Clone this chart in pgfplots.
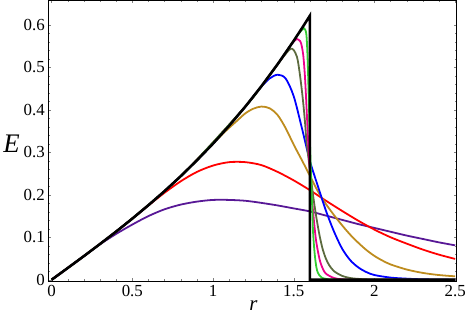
\documentclass[border=0pt]{standalone}
\usepackage{fontspec}
\setmainfont{Liberation Serif}
\usepackage{pgfplots}
\pgfplotsset{compat=1.18}

\definecolor{cpurple}{RGB}{88,24,150}
\definecolor{cgold}{RGB}{190,140,30}
\definecolor{colive}{RGB}{92,106,62}
\definecolor{cgreen}{RGB}{50,205,50}

\begin{document}
\begin{tikzpicture}
\begin{axis}[
    width=410bp, height=282bp, scale only axis,
    xmin=-0.021, xmax=2.51,
    ymin=-0.004, ymax=0.658,
    xtick={0,0.5,1,1.5,2,2.5},
    ytick={0,0.1,0.2,0.3,0.4,0.5,0.6},
    minor tick num=4,
    tick align=inside,
    major tick length=3pt, minor tick length=2pt,
    tick style={gray, line width=0.4pt},
    axis line style={line width=0.9pt},
    tick label style={font=\fontsize{17}{19}\selectfont},
    /pgf/number format/assume math mode=true,
    xlabel={\fontsize{21}{22}\selectfont\itshape r},
    ylabel={\fontsize{27}{28}\selectfont\itshape E},
    xlabel style={at={(axis description cs:0.502,-0.085)}, anchor=center},
    ylabel style={rotate=-90, at={(axis description cs:-0.09,0.49)}, anchor=center},
    clip=true,
]

% purple
\addplot[cpurple, line width=1.8pt, smooth] coordinates {
(0,0) (0.1,0.0277) (0.2,0.0556) (0.3,0.0835) (0.4,0.108) (0.5,0.130)
(0.6,0.150) (0.7,0.166) (0.8,0.177) (0.9,0.184) (1.0,0.188) (1.1,0.188)
(1.2,0.186) (1.3,0.181) (1.4,0.175) (1.5,0.168) (1.6,0.161) (1.7,0.151)
(1.8,0.141) (1.9,0.131) (2.0,0.122) (2.1,0.113) (2.2,0.104) (2.3,0.096)
(2.4,0.088) (2.5,0.081)
};

% red
\addplot[red, line width=1.8pt, smooth] coordinates {
(0,0) (0.1,0.0277) (0.2,0.0557) (0.3,0.0843) (0.4,0.1136) (0.5,0.1440)
(0.6,0.1750) (0.7,0.205) (0.8,0.232) (0.9,0.254) (1.0,0.269) (1.1,0.277)
(1.2,0.277) (1.3,0.270) (1.4,0.254) (1.5,0.234) (1.6,0.211) (1.7,0.186)
(1.8,0.162) (1.9,0.139) (2.0,0.118) (2.1,0.100) (2.2,0.085) (2.3,0.071)
(2.4,0.059) (2.5,0.049)
};

% gold
\addplot[cgold, line width=1.8pt, smooth] coordinates {
(0,0) (0.2,0.0557) (0.4,0.1136) (0.6,0.1757) (0.8,0.2440) (1.0,0.3207)
(1.05,0.340) (1.1,0.358) (1.15,0.375) (1.2,0.392) (1.25,0.403) (1.3,0.408)
(1.35,0.404) (1.4,0.388) (1.45,0.357) (1.5,0.318) (1.55,0.282) (1.6,0.245)
(1.65,0.208) (1.7,0.178) (1.75,0.152) (1.8,0.128) (1.85,0.106) (1.9,0.087)
(1.95,0.070) (2.0,0.056) (2.05,0.045) (2.1,0.036) (2.2,0.024) (2.3,0.016)
(2.4,0.011) (2.5,0.008)
};

% blue
\addplot[blue, line width=1.8pt, smooth] coordinates {
(0,0) (0.2,0.0557) (0.4,0.1136) (0.6,0.1757) (0.8,0.2440) (1.0,0.3207)
(1.2,0.4079) (1.25,0.4316) (1.3,0.455) (1.35,0.474) (1.4,0.483) (1.45,0.474)
(1.5,0.432) (1.55,0.358) (1.6,0.280) (1.65,0.220) (1.7,0.162) (1.75,0.113)
(1.8,0.073) (1.85,0.046) (1.9,0.029) (1.95,0.018) (2.0,0.011) (2.1,0.005)
(2.2,0.0025) (2.3,0.001) (2.5,0)
};

% olive
\addplot[colive, line width=1.8pt, smooth] coordinates {
(0,0) (0.4,0.1136) (0.8,0.2440) (1.2,0.4079) (1.3,0.4561) (1.4,0.5077)
(1.45,0.532) (1.48,0.544) (1.50,0.541) (1.52,0.525) (1.53,0.505)
(1.54,0.478) (1.55,0.447) (1.56,0.412) (1.57,0.370) (1.58,0.322)
(1.60,0.260) (1.62,0.198) (1.64,0.147) (1.66,0.104) (1.68,0.071)
(1.70,0.049) (1.72,0.034) (1.75,0.020) (1.8,0.009) (1.85,0.004)
(1.9,0.002) (2.0,0.0005) (2.5,0)
};

% magenta
\addplot[magenta, line width=1.8pt, smooth] coordinates {
(0,0) (0.4,0.1136) (0.8,0.2440) (1.2,0.4079) (1.4,0.5077) (1.48,0.5516)
(1.50,0.561) (1.52,0.567) (1.54,0.562) (1.55,0.550) (1.56,0.525)
(1.57,0.475) (1.58,0.400) (1.59,0.320) (1.60,0.255) (1.61,0.205)
(1.62,0.160) (1.63,0.120) (1.64,0.088) (1.66,0.048) (1.68,0.026)
(1.70,0.014) (1.75,0.004) (1.8,0.001) (1.9,0) (2.5,0)
};

% green
\addplot[cgreen, line width=1.8pt, smooth] coordinates {
(0,0) (0.4,0.1136) (0.8,0.2440) (1.2,0.4079) (1.4,0.5077) (1.52,0.5745)
(1.55,0.588) (1.565,0.592) (1.575,0.585) (1.58,0.570) (1.585,0.530)
(1.59,0.470) (1.595,0.400) (1.60,0.330) (1.605,0.270) (1.61,0.220)
(1.615,0.165) (1.62,0.110) (1.63,0.060) (1.64,0.030) (1.65,0.016)
(1.67,0.006) (1.70,0.002) (1.8,0) (2.5,0)
};

% black limit curve
\addplot[black, line width=2.6pt, line join=miter] coordinates {
(0,0) (0.1,0.0277) (0.2,0.0557) (0.3,0.0843) (0.4,0.1136) (0.5,0.1440)
(0.6,0.1757) (0.7,0.2089) (0.8,0.2440) (0.9,0.2812) (1.0,0.3207)
(1.1,0.3629) (1.2,0.4079) (1.3,0.4561) (1.4,0.5077) (1.5,0.5630)
(1.55,0.5921) (1.6,0.6220) (1.6,0) (2.5,0)
};

\end{axis}
\end{tikzpicture}
\end{document}
